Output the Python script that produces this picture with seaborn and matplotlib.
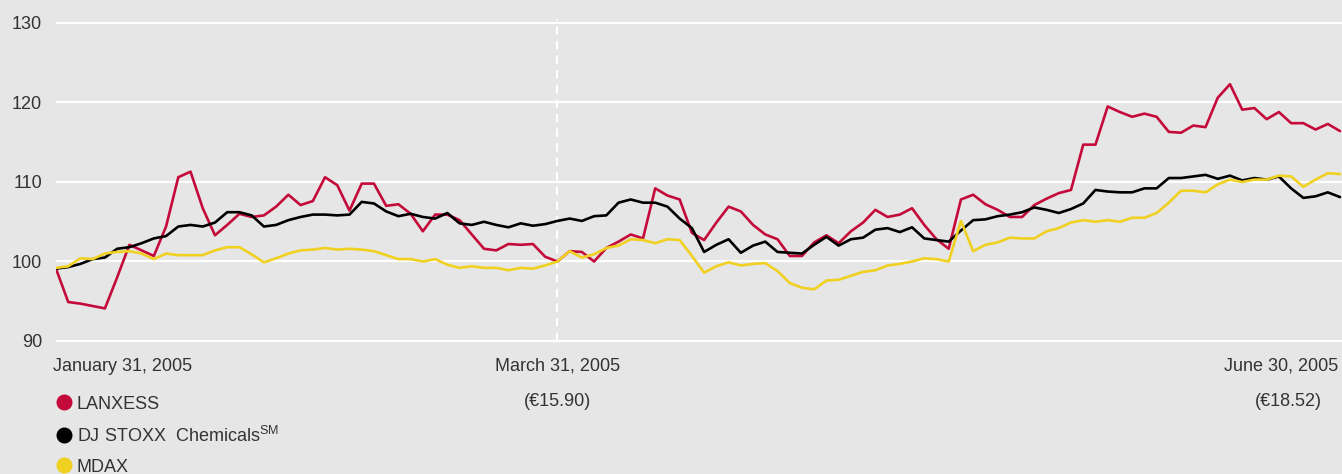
import numpy as np
import pandas as pd
import matplotlib
matplotlib.use("Agg")
import matplotlib.pyplot as plt
import matplotlib.transforms as mtransforms
from matplotlib.lines import Line2D
import seaborn as sns

# Indexed share price, trading days Jan 31 - Jun 30, 2005 (Jan 31 = start)
lanxess = [99.1, 94.9, 94.7, 94.4, 94.1, 98.0, 102.1, 101.4, 100.7, 104.4,
           110.6, 111.3, 106.7, 103.3, 104.6, 106.0, 105.6, 105.8, 106.9, 108.4,
           107.1, 107.6, 110.6, 109.6, 106.4, 109.8, 109.8, 107.0, 107.2, 106.0,
           103.8, 105.9, 105.9, 105.2, 103.4, 101.6, 101.4, 102.2, 102.1, 102.2,
           100.6, 100.0, 101.3, 101.2, 100.0, 101.7, 102.5, 103.4, 102.9, 109.2,
           108.3, 107.8, 103.6, 102.7, 104.9, 106.9, 106.3, 104.6, 103.4, 102.8,
           100.7, 100.7, 102.4, 103.3, 102.3, 103.8, 104.9, 106.5, 105.6, 105.9,
           106.7, 104.6, 102.8, 101.6, 107.8, 108.4, 107.2, 106.5, 105.6, 105.6,
           107.1, 107.9, 108.6, 109.0, 114.7, 114.7, 119.5, 118.8, 118.2, 118.6,
           118.2, 116.3, 116.2, 117.1, 116.9, 120.6, 122.3, 119.1, 119.3, 117.9,
           118.8, 117.4, 117.4, 116.6, 117.3, 116.4]
stoxx = [99.1, 99.3, 99.7, 100.3, 100.5, 101.6, 101.8, 102.3, 102.9, 103.2,
         104.4, 104.6, 104.4, 104.9, 106.2, 106.2, 105.8, 104.4, 104.6, 105.2,
         105.6, 105.9, 105.9, 105.8, 105.9, 107.5, 107.3, 106.3, 105.7, 106.0,
         105.6, 105.4, 106.1, 104.8, 104.6, 105.0, 104.6, 104.3, 104.8, 104.5,
         104.7, 105.1, 105.4, 105.1, 105.7, 105.8, 107.4, 107.8, 107.4, 107.4,
         106.9, 105.4, 104.2, 101.2, 102.1, 102.8, 101.1, 102.0, 102.5, 101.2,
         101.1, 101.0, 102.1, 103.1, 102.0, 102.8, 103.0, 104.0, 104.2, 103.7,
         104.3, 102.9, 102.7, 102.5, 103.9, 105.2, 105.3, 105.7, 105.9, 106.2,
         106.8, 106.5, 106.1, 106.6, 107.3, 109.0, 108.8, 108.7, 108.7, 109.2,
         109.2, 110.5, 110.5, 110.7, 110.9, 110.4, 110.8, 110.2, 110.5, 110.3,
         110.7, 109.2, 108.0, 108.2, 108.7, 108.1]
mdax = [99.2, 99.4, 100.4, 100.3, 101.0, 101.2, 101.3, 101.0, 100.3, 101.0,
        100.8, 100.8, 100.8, 101.4, 101.8, 101.8, 100.9, 99.9, 100.4, 101.0,
        101.4, 101.5, 101.7, 101.5, 101.6, 101.5, 101.3, 100.8, 100.3, 100.3,
        100.0, 100.3, 99.6, 99.2, 99.4, 99.2, 99.2, 98.9, 99.2, 99.1,
        99.5, 100.0, 101.3, 100.5, 100.9, 101.7, 102.0, 102.8, 102.7, 102.3,
        102.8, 102.7, 100.7, 98.6, 99.4, 99.9, 99.5, 99.7, 99.8, 98.8,
        97.3, 96.7, 96.5, 97.6, 97.7, 98.2, 98.7, 98.9, 99.5, 99.7,
        100.0, 100.4, 100.3, 100.0, 105.1, 101.3, 102.1, 102.4, 103.0, 102.9,
        102.9, 103.8, 104.2, 104.9, 105.2, 105.0, 105.2, 105.0, 105.5, 105.5,
        106.1, 107.4, 108.9, 108.9, 108.7, 109.7, 110.3, 110.0, 110.3, 110.3,
        110.8, 110.7, 109.4, 110.3, 111.1, 111.0]

series_names = ["LANXESS", "DJ STOXX Chemicals", "MDAX"]
legend_labels = ["LANXESS", r"DJ STOXX  Chemicals$^{\rm SM}$", "MDAX"]
colors = ["#c40a3a", "#000000", "#f0d020"]
y_ticks = [90, 100, 110, 120, 130]
date_labels = ["January 31, 2005", "March 31, 2005", "June 30, 2005"]
date_pos = [0, 41, 105]
price_labels = ["(€15.90)", "(€18.52)"]

days = np.arange(len(lanxess))
df = pd.DataFrame({
    "day": np.tile(days, 3),
    "value": lanxess + stoxx + mdax,
    "series": np.repeat(series_names, len(days)),
})

sns.set_style("darkgrid", {"axes.facecolor": "#e6e6e6", "figure.facecolor": "#e6e6e6",
                           "grid.color": "white", "axes.edgecolor": "#e6e6e6"})
plt.rcParams["font.family"] = ["Liberation Sans", "DejaVu Sans"]
plt.rcParams["mathtext.fontset"] = "custom"
plt.rcParams["mathtext.rm"] = "Liberation Sans"
text_color = "#333333"

fig = plt.figure(figsize=(13.42, 4.74), dpi=100)
ax = fig.add_axes([56 / 1342, 0.26382, 1286 / 1342, 0.70443])

sns.lineplot(data=df, x="day", y="value", hue="series", hue_order=series_names,
             palette=colors, linewidth=1.9, legend=False, ax=ax)

ax.vlines(41, 90, 130.5, colors="white", linestyles=(0, (4, 3)), linewidth=1.5, zorder=1)

ax.set_xlim(0, 105.16)
ax.set_ylim(89, 131)
ax.set_yticks(y_ticks)
ax.set_xticks([])
ax.grid(axis="x", visible=False)
ax.grid(axis="y", color="white", linewidth=1.6)
ax.set_axisbelow(True)
ax.tick_params(axis="y", length=0, pad=10, labelsize=13, labelcolor=text_color)
ax.set_xlabel("")
ax.set_ylabel("")
for s in ax.spines.values():
    s.set_visible(False)

# dates below the axis, prices under the two later dates
trans = mtransforms.blended_transform_factory(ax.transData, fig.transFigure)
ax.text(date_pos[0] - 0.25, 0.2278, date_labels[0], ha="left", va="center",
        fontsize=13, color=text_color, transform=trans)
ax.text(date_pos[1], 0.2278, date_labels[1], ha="center", va="center",
        fontsize=13, color=text_color, transform=trans)
ax.text(date_pos[2] - 0.15, 0.2278, date_labels[2], ha="right", va="center",
        fontsize=13, color=text_color, transform=trans)
ax.text(date_pos[1], 0.154, price_labels[0], ha="center", va="center",
        fontsize=13, color=text_color, transform=trans)
ax.text(date_pos[2] - 4.2, 0.154, price_labels[1], ha="center", va="center",
        fontsize=13, color=text_color, transform=trans)

handles = [Line2D([], [], linestyle="none", marker="o", markersize=10.5,
                  markerfacecolor=c, markeredgecolor=c) for c in colors]
fig.legend(handles, legend_labels, loc="upper left", bbox_to_anchor=(0.0425, 0.1655),
           frameon=False, fontsize=13, handlelength=0.8, handletextpad=0.28,
           labelspacing=0.72, borderpad=0, borderaxespad=0, labelcolor=text_color)

fig.savefig("out.png", dpi=100, facecolor=fig.get_facecolor())
